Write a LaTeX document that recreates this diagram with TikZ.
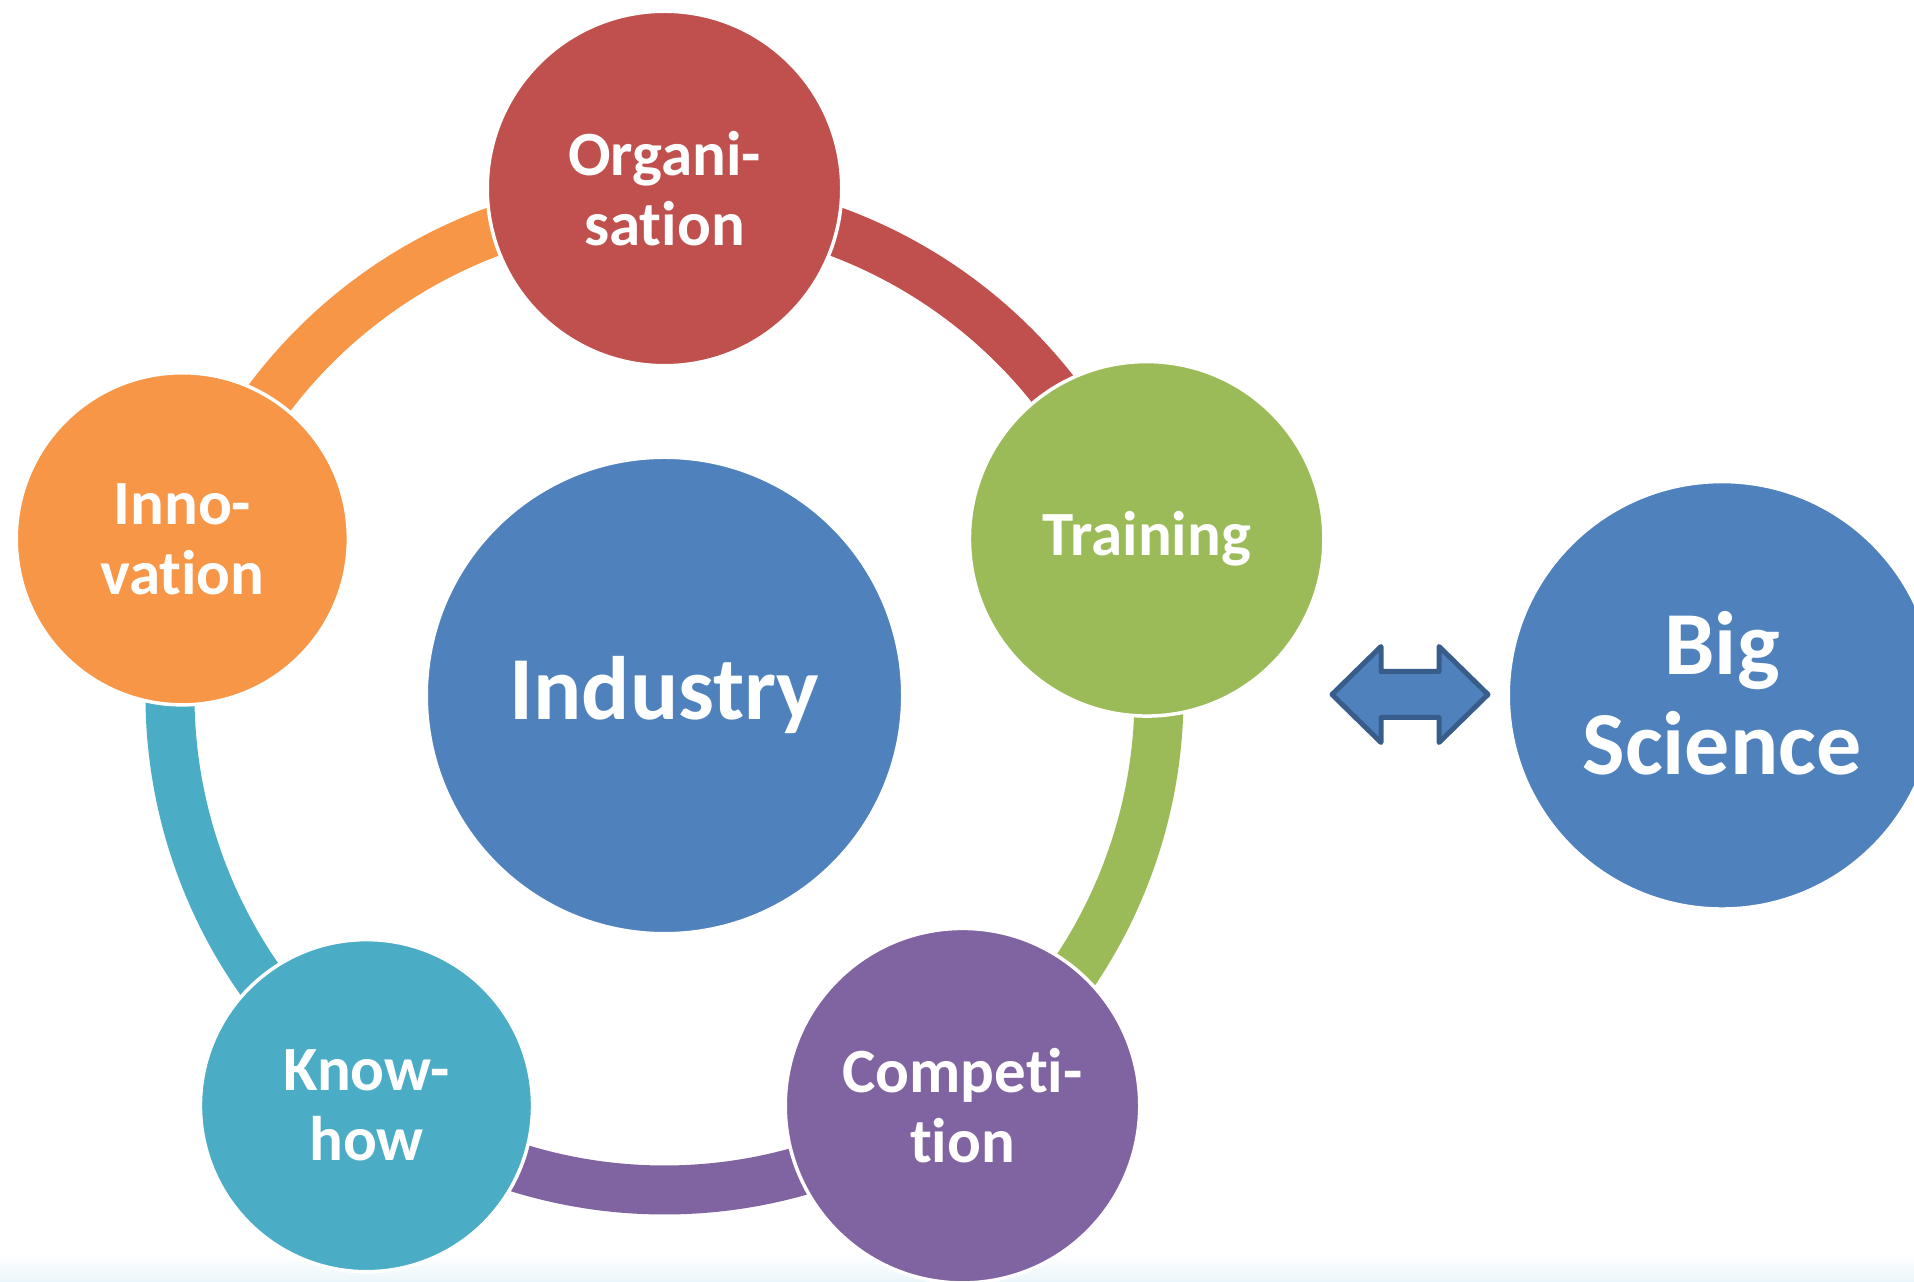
\documentclass[tikz,border=0pt]{standalone}
\usepackage{fontspec}
\setmainfont{Carlito}[Ligatures={NoCommon,NoContextual}]
\usetikzlibrary{calc}
\definecolor{cblue}{HTML}{4F81BD}
\definecolor{cred}{HTML}{C0504D}
\definecolor{cgreen}{HTML}{9BBB59}
\definecolor{cpurple}{HTML}{8064A2}
\definecolor{cteal}{HTML}{4BACC6}
\definecolor{corange}{HTML}{F79646}
\definecolor{carrowline}{HTML}{385D8A}
\definecolor{cband}{HTML}{EAF6FB}
\begin{document}
\begin{tikzpicture}[x=1pt,y=1pt,
  bubble/.style={circle, inner sep=0pt, draw=white, line width=3.5pt, text=white,
    align=center, font=\bfseries\fontsize{63}{70}\selectfont},
  bigbubble/.style={bubble, font=\bfseries\fontsize{90}{100}\selectfont},
  ringseg/.style={line width=49pt},
  dblarrow/.style={fill=cblue, draw=carrowline, line width=5pt, line join=round}
]
\useasboundingbox (0,0) rectangle (1914,1282);
% faint band at the bottom edge
\shade[top color=white, bottom color=cband] (0,0) rectangle (1914,28);
\coordinate (c) at (664.5,586.5);
% ring segments (drawn under the circles)
\draw[ringseg, corange] ($(c)+(162:494.5)$) arc[start angle=162, end angle=90, radius=494.5];
\draw[ringseg, cred]    ($(c)+(90:494.5)$)  arc[start angle=90,  end angle=18, radius=494.5];
\draw[ringseg, cgreen]  ($(c)+(18:494.5)$)  arc[start angle=18,  end angle=-54, radius=494.5];
\draw[ringseg, cpurple] ($(c)+(-54:494.5)$) arc[start angle=-54, end angle=-126, radius=494.5];
\draw[ringseg, cteal]   ($(c)+(-126:494.5)$) arc[start angle=-126, end angle=-198, radius=494.5];
% circles
\node[bigbubble, fill=cblue, minimum size=476.5pt] (ind) at (c) {Industry};
\node[bubble, fill=cred, minimum size=354.5pt] (org) at ($(c)+(90:507)$) {Organi-\\sation};
\node[bubble, fill=cgreen, minimum size=354.5pt] (trn) at ($(c)+(18:507)$) {Training};
\node[bubble, fill=cpurple, minimum size=354.5pt] (cmp) at ($(c)+(-54:507)$) {Competi-\\tion};
\node[bubble, fill=cteal, minimum size=332.1pt] (kno) at ($(c)+(-126:507)$) {Know-\\how};
\node[bubble, fill=corange, minimum size=332.1pt] (inn) at ($(c)+(162:507)$) {Inno-\\vation};
\node[bigbubble, fill=cblue, minimum size=427.5pt] (big) at (1722,586.7) {\raisebox{4pt}{Big}\\\raisebox{4pt}{Science}};
% double arrow
\draw[dblarrow] (1332,587.5) -- (1381,635.5) -- (1381,610.5) -- (1439,610.5) -- (1439,635.5)
  -- (1488,587.5) -- (1439,539.5) -- (1439,564.5) -- (1381,564.5) -- (1381,539.5) -- cycle;
\end{tikzpicture}
\end{document}
